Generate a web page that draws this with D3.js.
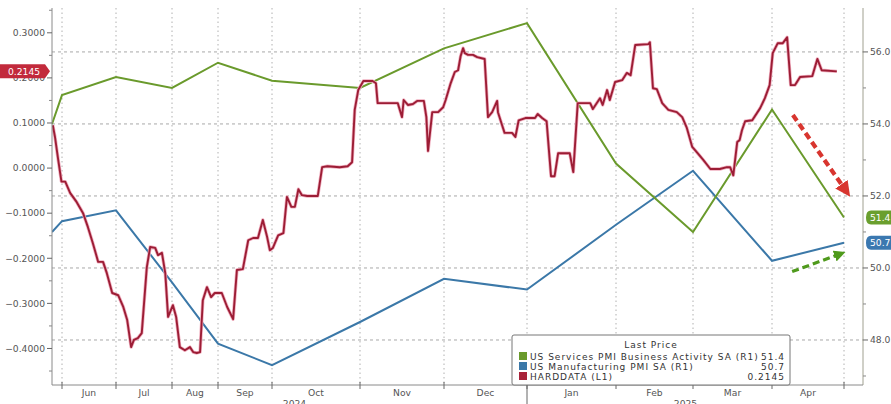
<!DOCTYPE html>
<html><head><meta charset="utf-8">
<script src="https://cdn.jsdelivr.net/npm/d3@7"></script>
<style>body{margin:0;background:#fff;} svg{display:block;font-family:"DejaVu Sans",sans-serif;}</style>
</head><body><svg id="c" width="891" height="404"></svg>
<script>
// ---------- DATA ----------
const monthLabels = ["Jun","Jul","Aug","Sep","Oct","Nov","Dec","Jan","Feb","Mar","Apr"];
const yearLabels = [{label:"2024", from:0, to:7}, {label:"2025", from:7, to:11}];
// time in "month units": 0 = start of Jun 2024, 11 = end of Apr 2025
const pmiT = [-0.185, 0, 1, 2, 3, 4, 5, 6, 7, 8, 9, 10, 11];
const servicesPMI = [54.0, 54.8, 55.3, 55.0, 55.7, 55.2, 55.0, 56.1, 56.8, 52.9, 51.0, 54.4, 51.4];
const manufPMI    = [51.0, 51.3, 51.6, 49.6, 47.9, 47.3, 48.5, 49.7, 49.4, 51.2, 52.7, 50.2, 50.7];
const hardT = [-0.17,-0.13,-0.07,-0.01,0.06,0.15,0.27,0.39,0.48,0.57,0.67,0.76,0.83,0.93,
 1.04,1.13,1.20,1.27,1.32,1.39,1.46,1.55,1.61,1.70,1.75,1.82,1.88,1.93,
 2.02,2.09,2.17,2.28,2.39,2.46,2.54,2.61,2.67,2.76,2.85,2.93,
 3.07,3.17,3.28,3.35,3.46,3.56,3.65,3.74,3.83,3.91,3.96,
 4.01,4.07,4.13,4.17,4.22,4.26,4.30,4.34,4.40,4.52,4.57,4.63,4.77,4.86,4.91,4.94,4.98,
 5.04,5.15,5.19,5.21,5.27,5.45,5.50,5.52,5.57,5.63,5.68,5.76,5.79,5.81,5.86,5.93,5.99,
 6.02,6.08,6.13,6.17,6.20,6.23,6.25,6.29,6.35,6.40,6.49,6.53,6.58,6.64,6.65,6.70,6.73,6.82,6.86,6.90,6.98,
 7.09,7.12,7.17,7.22,7.27,7.31,7.35,7.48,7.52,7.57,7.71,7.74,7.82,7.85,7.90,7.93,7.99,
 8.08,8.14,8.19,8.25,8.42,8.44,8.48,8.53,8.60,8.68,8.79,8.86,8.92,8.99,
 9.05,9.13,9.22,9.34,9.43,9.47,9.51,9.56,9.59,9.62,9.66,9.75,9.85,9.91,9.97,
 10.01,10.08,10.15,10.21,10.26,10.32,10.39,10.56,10.63,10.69,10.90];
const hardData = [0.095,0.069,0.018,-0.030,-0.030,-0.055,-0.075,-0.100,-0.131,-0.166,-0.208,-0.208,-0.233,-0.277,
 -0.282,-0.308,-0.337,-0.397,-0.381,-0.377,-0.366,-0.220,-0.175,-0.177,-0.193,-0.188,-0.233,-0.330,
 -0.304,-0.330,-0.397,-0.404,-0.397,-0.408,-0.410,-0.408,-0.293,-0.264,-0.286,-0.277,
 -0.277,-0.308,-0.335,-0.226,-0.224,-0.160,-0.155,-0.155,-0.115,-0.153,-0.182,
 -0.177,-0.149,-0.144,-0.064,-0.086,-0.086,-0.047,-0.060,-0.062,-0.062,0.002,0.004,0.002,0.004,0.013,0.129,0.173,
 0.193,0.193,0.188,0.144,0.144,0.144,0.113,0.151,0.140,0.142,0.149,0.149,0.113,0.038,0.124,0.124,0.135,
 0.151,0.188,0.213,0.217,0.248,0.266,0.255,0.251,0.251,0.246,0.242,0.113,0.124,0.149,0.124,0.095,0.078,0.078,0.069,0.106,0.111,
 0.111,0.120,0.111,0.104,-0.018,-0.018,0.033,0.033,-0.009,0.144,0.144,0.131,0.155,0.140,0.173,0.151,0.191,
 0.195,0.211,0.206,0.273,0.275,0.279,0.177,0.175,0.144,0.129,0.124,0.113,0.089,0.047,
 0.035,0.018,-0.002,-0.002,0.002,0.002,-0.016,0.058,0.062,0.084,0.104,0.106,0.133,0.155,0.184,
 0.255,0.277,0.277,0.290,0.184,0.184,0.202,0.204,0.242,0.217,0.2145];
const leftTicks = [-0.4,-0.3,-0.2,-0.1,0,0.1,0.2,0.3];
const leftMinor = [-0.45,-0.35,-0.25,-0.15,-0.05,0.05,0.15,0.25,0.35];
const rightTicks = [48,50,52,54,56];
const rightMinor = [47,49,51,53,55];
const legendItems = [
  {name:"US Services PMI Business Activity SA  (R1)", value:"51.4", color:"#6a9a2c"},
  {name:"US Manufacturing PMI SA  (R1)", value:"50.7", color:"#3b78a8"},
  {name:"HARDDATA  (L1)", value:"0.2145", color:"#a8233a"}
];
// annotation arrows in data units (t, right-axis value)
const arrows = [
  {from:[10.29,54.25], to:[11.06,52.05], color:"#d8352f", width:4.2, head:"hr"},
  {from:[10.28,49.9], to:[10.99,50.42], color:"#4f9a1c", width:3.2, head:"hg"}
];

// ---------- LAYOUT ----------
const W = 891, H = 404;
const L = 52, R = 863, T = 8, B = 385;
const gridPx = [62,116,172,218,272,360,444,527,616,693,772,844];
const tDomain = [-0.185].concat(d3.range(12), [11.26]);
const xRange = [L].concat(gridPx, [R]);
const x = d3.scaleLinear().domain(tDomain).range(xRange);
const yL = d3.scaleLinear().domain([-0.481, 0.355]).range([B, T]);
const yR = d3.scaleLinear().domain([46.75, 57.22]).range([B, T]);

const svg = d3.select("#c");
const defs = svg.append("defs");
defs.append("clipPath").attr("id","clip").append("rect").attr("x",L).attr("y",T).attr("width",R-L).attr("height",B-T);
defs.append("marker").attr("id","hr").attr("viewBox","0 0 10 10").attr("refX",8).attr("refY",5)
  .attr("markerWidth",3.6).attr("markerHeight",3.6).attr("orient","auto").attr("markerUnits","strokeWidth")
  .append("path").attr("d","M0,0L10,5L0,10z").attr("fill","#d8352f");
defs.append("marker").attr("id","hg").attr("viewBox","0 0 10 10").attr("refX",8).attr("refY",5)
  .attr("markerWidth",3.6).attr("markerHeight",3.6).attr("orient","auto").attr("markerUnits","strokeWidth")
  .append("path").attr("d","M0,0L10,5L0,10z").attr("fill","#4f9a1c");

// gridlines
const grid = svg.append("g");
grid.selectAll("line.h").data(rightTicks).join("line")
  .attr("x1",L).attr("x2",R).attr("y1",d=>yR(d)).attr("y2",d=>yR(d))
  .attr("stroke","#a8a8a8").attr("stroke-width",1).attr("stroke-dasharray","3,3");
grid.selectAll("line.v").data(d3.range(12)).join("line")
  .attr("x1",d=>x(d)).attr("x2",d=>x(d)).attr("y1",T).attr("y2",B)
  .attr("stroke","#b0b0b0").attr("stroke-width",1).attr("stroke-dasharray","1.5,3");

// series
const plot = svg.append("g").attr("clip-path","url(#clip)");
const lineR = d3.line().x(d=>x(d[0])).y(d=>yR(d[1]));
const lineL = d3.line().x(d=>x(d[0])).y(d=>yL(d[1]));
plot.append("path").datum(d3.zip(pmiT, manufPMI)).attr("d",lineR)
  .attr("fill","none").attr("stroke","#3b78a8").attr("stroke-width",2);
plot.append("path").datum(d3.zip(pmiT, servicesPMI)).attr("d",lineR)
  .attr("fill","none").attr("stroke","#6a9a2c").attr("stroke-width",2);
const hd = d3.zip(hardT, hardData);
plot.append("path").datum(hd).attr("d",lineL)
  .attr("fill","none").attr("stroke","#f0b0c0").attr("stroke-width",3.4).attr("stroke-linejoin","round");
plot.append("path").datum(hd).attr("d",lineL)
  .attr("fill","none").attr("stroke","#9c1d35").attr("stroke-width",1.9).attr("stroke-linejoin","round");

// arrows
svg.append("g").selectAll("line").data(arrows).join("line")
  .attr("x1",d=>x(d.from[0])).attr("y1",d=>yR(d.from[1]))
  .attr("x2",d=>x(d.to[0])).attr("y2",d=>yR(d.to[1]))
  .attr("stroke",d=>d.color).attr("stroke-width",d=>d.width)
  .attr("stroke-dasharray","7,4").attr("marker-end",d=>`url(#${d.head})`);

// axes
const axColor = "#8a8a8a", txtColor = "#555";
const ax = svg.append("g").attr("font-size",9.2).attr("fill",txtColor);
ax.append("line").attr("x1",L).attr("x2",L).attr("y1",T).attr("y2",B).attr("stroke",axColor);
ax.append("line").attr("x1",R).attr("x2",R).attr("y1",T).attr("y2",B).attr("stroke","#a0a090");
ax.append("line").attr("x1",L).attr("x2",R).attr("y1",B).attr("y2",B).attr("stroke",axColor);
ax.selectAll("line.lt").data(leftTicks).join("line").attr("x1",L-5).attr("x2",L)
  .attr("y1",d=>yL(d)).attr("y2",d=>yL(d)).attr("stroke","#666");
ax.selectAll("line.lm").data(leftMinor).join("line").attr("x1",L-3).attr("x2",L)
  .attr("y1",d=>yL(d)).attr("y2",d=>yL(d)).attr("stroke","#888");
ax.selectAll("text.lt").data(leftTicks).join("text").attr("x",L-7).attr("y",d=>yL(d)+3.3)
  .attr("text-anchor","end").text(d=>d3.format(".4f")(d));
ax.selectAll("line.rt").data(rightTicks).join("line").attr("x1",R).attr("x2",R+5)
  .attr("y1",d=>yR(d)).attr("y2",d=>yR(d)).attr("stroke","#666");
ax.selectAll("line.rm").data(rightMinor).join("line").attr("x1",R).attr("x2",R+3)
  .attr("y1",d=>yR(d)).attr("y2",d=>yR(d)).attr("stroke","#888");
ax.selectAll("text.rt").data(rightTicks).join("text").attr("x",R+7).attr("y",d=>yR(d)+3.3)
  .text(d=>d3.format(".1f")(d));
// bottom ticks
ax.selectAll("line.bt").data(d3.range(12)).join("line").attr("x1",d=>x(d)).attr("x2",d=>x(d))
  .attr("y1",B-3).attr("y2",B+4).attr("stroke","#666");
ax.selectAll("text.m").data(monthLabels).join("text").attr("x",(d,i)=>(x(i)+x(i+1))/2).attr("y",B+11)
  .attr("text-anchor","middle").text(d=>d);
ax.selectAll("text.y").data(yearLabels).join("text").attr("x",d=>(x(d.from)+x(d.to))/2).attr("y",B+22)
  .attr("text-anchor","middle").text(d=>d.label);
ax.append("line").attr("x1",x(7)).attr("x2",x(7)).attr("y1",B).attr("y2",H).attr("stroke","#666");

// value tags
const lastHard = hardData[hardData.length-1];
const yh = yL(lastHard);
svg.append("path").attr("d",`M0,${yh-7}H45L50,${yh}L45,${yh+7}H0Z`).attr("fill","#c22a3c");
svg.append("text").attr("x",24).attr("y",yh+3.3).attr("text-anchor","middle").attr("font-size",9.2)
  .attr("fill","#fff").text(d3.format(".4f")(lastHard));
[[servicesPMI,"#6a9f2e"],[manufPMI,"#3b78b0"]].forEach(([s,c])=>{
  const v = s[s.length-1], yy = yR(v);
  svg.append("path").attr("d",`M${R+8},${yy-7}H${W}V${yy+7}H${R+8}Q${R+3},${yy+7} ${R+3},${yy}Q${R+3},${yy-7} ${R+8},${yy-7}Z`).attr("fill",c);
  svg.append("text").attr("x",R+7).attr("y",yy+3.3).attr("font-size",9.2).attr("fill","#fff").text(d3.format(".1f")(v));
});

// legend
const lg = svg.append("g").attr("font-size",9).attr("letter-spacing",1).attr("fill","#333");
lg.append("rect").attr("x",512).attr("y",335).attr("width",278).attr("height",50).attr("rx",2)
  .attr("fill","#fff").attr("stroke","#777");
lg.append("text").attr("x",651).attr("y",348).attr("text-anchor","middle").text("Last Price");
const rows = lg.selectAll("g.r").data(legendItems).join("g").attr("transform",(d,i)=>`translate(0,${359.5+i*10})`);
rows.append("rect").attr("x",519).attr("y",-7.5).attr("width",8).attr("height",8).attr("fill",d=>d.color);
rows.append("text").attr("x",530).attr("y",0).text(d=>d.name);
rows.append("text").attr("x",785).attr("y",0).attr("text-anchor","end").text(d=>d.value);
</script></body></html>
